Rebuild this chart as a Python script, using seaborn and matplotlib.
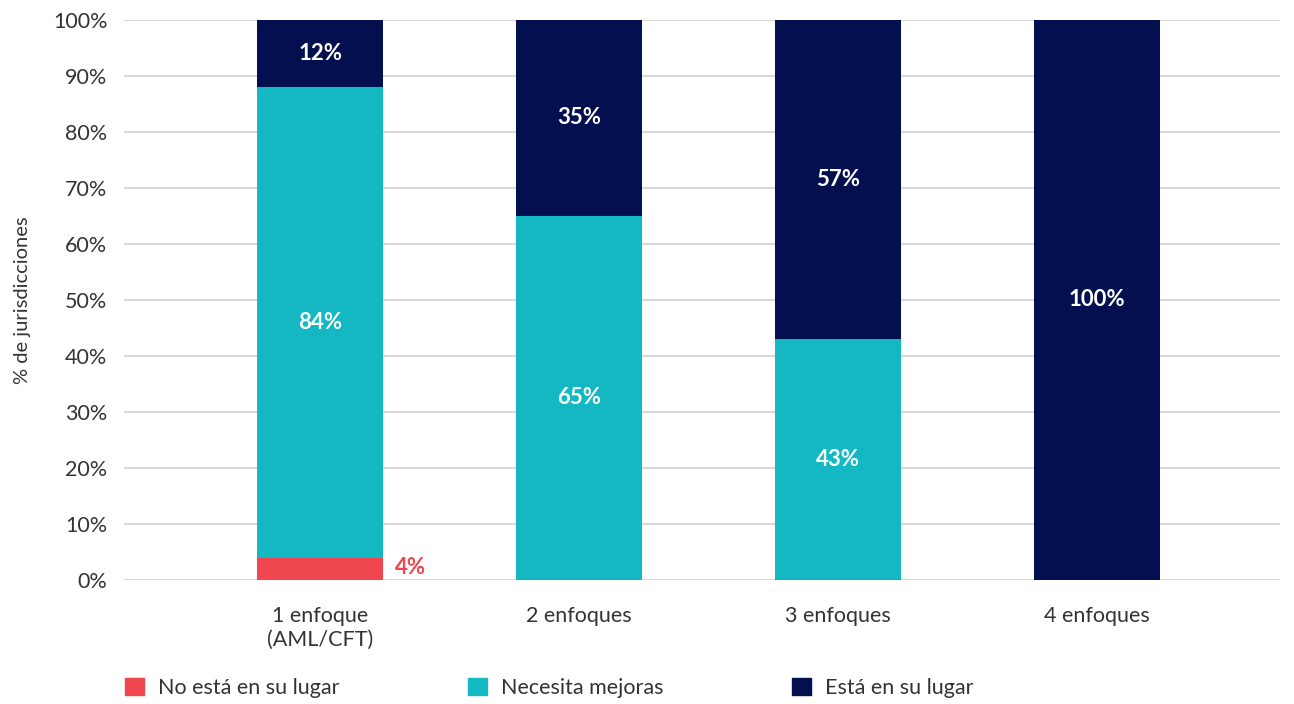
import pandas as pd
import numpy as np
import seaborn as sns
import matplotlib.pyplot as plt
from matplotlib.patches import Patch

categories = ['1 enfoque\n(AML/CFT)', '2 enfoques', '3 enfoques', '4 enfoques']
no_esta = [4, 0, 0, 0]
necesita = [84, 65, 43, 0]
esta = [12, 35, 57, 100]

c_red = '#EF4650'
c_teal = '#13B8C2'
c_navy = '#030F4F'

df = pd.DataFrame({'cat': categories, 'no': no_esta, 'nec': necesita, 'esta': esta})
df['cum2'] = df['no'] + df['nec']
df['cum3'] = df['cum2'] + df['esta']

sns.set_style('white')
plt.rcParams['font.family'] = ['Lato', 'DejaVu Sans']

fig = plt.figure(figsize=(12.94, 7.04), dpi=100)
ax = fig.add_axes([124 / 1294, 124 / 704, 1156 / 1294, 560 / 704])

# stacked bars by overlaying cumulative totals
for col, c in [('cum3', c_navy), ('cum2', c_teal), ('no', c_red)]:
    sns.barplot(data=df, x='cat', y=col, color=c, width=0.487, ax=ax,
                saturation=1, linewidth=0, zorder=3)

ax.set_xlim(-0.757, 3.707)
ax.set_ylim(0, 100)
ax.set_yticks(np.arange(0, 101, 10))
ax.set_yticklabels([f'{v}%' for v in range(0, 101, 10)])
ax.yaxis.grid(True, color='#d9d9d9', linewidth=1.5, zorder=0)
ax.set_axisbelow(True)
for s in ax.spines.values():
    s.set_visible(False)
ax.tick_params(axis='y', length=0, pad=12, labelsize=15.5, labelcolor='#333333')
ax.tick_params(axis='x', length=0, pad=19, labelsize=15.5, labelcolor='#333333')
ax.set_xlabel('')
ax.set_ylabel('% de jurisdicciones', fontsize=14.5, color='#333333', labelpad=16)

# value labels
for i in range(len(categories)):
    if necesita[i] > 0:
        ax.text(i, no_esta[i] + necesita[i] / 2, f'{necesita[i]}%', ha='center', va='center',
                color='white', fontsize=16, fontweight='bold', zorder=5)
    if esta[i] > 0:
        ax.text(i, df['cum2'][i] + esta[i] / 2, f'{esta[i]}%', ha='center', va='center',
                color='white', fontsize=16, fontweight='bold', zorder=5)
    if no_esta[i] > 0:
        ax.text(i + 0.29, no_esta[i] / 2 + 0.3, f'{no_esta[i]}%', ha='left', va='center',
                color=c_red, fontsize=16, fontweight='bold', zorder=5)

handles = [Patch(color=c_red, label='No está en su lugar'),
           Patch(color=c_teal, label='Necesita mejoras'),
           Patch(color=c_navy, label='Está en su lugar')]
leg = fig.legend(handles=handles, loc='center left', bbox_to_anchor=(106 / 1294, 16 / 704),
                 ncol=3, frameon=False, fontsize=15.5, handlelength=0.85, handleheight=0.85,
                 handletextpad=0.65, columnspacing=6.0)
for t in leg.get_texts():
    t.set_color('#333333')

fig.savefig('out.png', dpi=100)
